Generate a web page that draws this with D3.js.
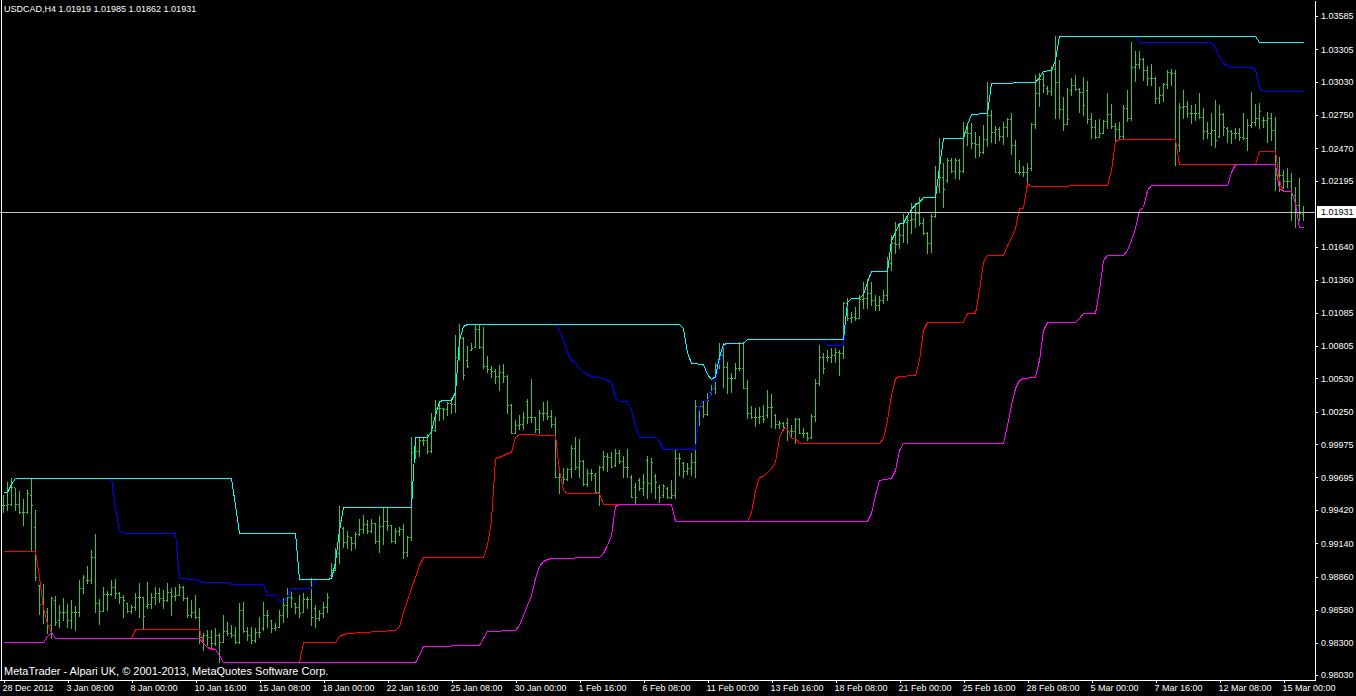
<!DOCTYPE html>
<html><head><meta charset="utf-8">
<script src="https://cdn.jsdelivr.net/npm/d3@7"></script>
<style>
html,body{margin:0;padding:0;background:#000;overflow:hidden}
svg{display:block}
text{font-family:"Liberation Sans",Arial,sans-serif;font-size:9px;fill:#fff}
</style></head><body>
<svg id="c" width="1356" height="696"></svg>
<script>
const titleText = "USDCAD,H4  1.01919 1.01985 1.01862 1.01931";
const copyrightText = "MetaTrader - Alpari UK, \u00A9 2001-2013, MetaQuotes Software Corp.";
const currentPrice = 1.01931;

const timeTickBars = [0,16,32,48,64,80,96,112,128,144,160,176,192,208,224,240,256,272,288,304,320];
const timeLabels = ["28 Dec 2012","3 Jan 08:00","8 Jan 00:00","10 Jan 16:00","15 Jan 08:00","18 Jan 00:00","22 Jan 16:00","25 Jan 08:00","30 Jan 00:00","1 Feb 16:00","6 Feb 08:00","11 Feb 00:00","13 Feb 16:00","18 Feb 08:00","21 Feb 00:00","25 Feb 16:00","28 Feb 08:00","5 Mar 00:00","7 Mar 16:00","12 Mar 08:00","15 Mar 00:00"];
const priceTicks = [1.03585,1.03305,1.03030,1.02750,1.02470,1.02195,1.01640,1.01360,1.01085,1.00805,1.00530,1.00250,0.99975,0.99695,0.99420,0.99140,0.98860,0.98580,0.98300,0.98030];

const high = [0.99547,0.99657,0.99690,0.99606,0.99581,0.99513,0.99589,0.99690,0.99421,0.98788,0.98797,0.98595,0.98687,0.98696,0.98620,0.98679,0.98628,0.98662,0.98611,0.98831,
0.98873,0.98949,0.99084,0.99218,0.98670,0.98772,0.98738,0.98831,0.98839,0.98729,0.98704,0.98637,0.98620,0.98721,0.98805,0.98687,0.98814,0.98721,0.98772,0.98763,
0.98746,0.98805,0.98763,0.98772,0.98797,0.98780,0.98687,0.98662,0.98704,0.98595,0.98384,0.98409,0.98409,0.98426,0.98384,0.98536,0.98477,0.98451,0.98434,0.98637,
0.98645,0.98434,0.98434,0.98426,0.98519,0.98645,0.98578,0.98493,0.98468,0.98578,0.98679,0.98763,0.98729,0.98637,0.98704,0.98721,0.98687,0.98848,0.98620,0.98578,
0.98645,0.98721,0.98974,0.99100,0.99454,0.99277,0.99244,0.99193,0.99235,0.99345,0.99379,0.99336,0.99345,0.99311,0.99370,0.99446,0.99446,0.99294,0.99269,0.99277,
0.99303,0.99202,1.00036,0.99960,1.00036,1.00036,1.00061,1.00238,1.00348,1.00331,1.00281,1.00331,1.00365,1.00896,1.00989,1.00879,1.00803,1.00829,1.00980,1.00980,
1.00963,1.00719,1.00635,1.00609,1.00643,1.00652,1.00559,1.00314,1.00179,1.00222,1.00247,1.00356,1.00525,1.00205,1.00264,1.00331,1.00340,1.00264,1.00205,0.99783,
0.99775,0.99775,0.99969,1.00036,1.00019,0.99842,0.99766,0.99766,0.99733,0.99792,0.99918,0.99901,0.99910,0.99935,0.99927,0.99876,0.99935,0.99716,0.99648,0.99690,
0.99724,0.99876,0.99859,0.99724,0.99631,0.99640,0.99615,0.99674,0.99927,0.99901,0.99825,0.99817,0.99901,1.00348,1.00306,1.00348,1.00407,1.00474,1.00660,1.00829,
1.00829,1.00668,1.00576,1.00660,1.00837,1.00837,1.00517,1.00297,1.00281,1.00289,1.00306,1.00432,1.00399,1.00230,1.00171,1.00163,1.00196,1.00137,1.00196,1.00196,
1.00112,1.00078,1.00230,1.00525,1.00812,1.00744,1.00770,1.00786,1.00786,1.00770,1.01174,1.01208,1.01090,1.01132,1.01233,1.01343,1.01368,1.01343,1.01233,1.01225,
1.01275,1.01554,1.01739,1.01849,1.01840,1.01916,1.01908,1.02009,1.02009,1.02059,1.01882,1.01764,1.01916,1.02321,1.02557,1.02346,1.02388,1.02388,1.02388,1.02380,
1.02692,1.02683,1.02683,1.02607,1.02574,1.02666,1.03029,1.02793,1.02658,1.02649,1.02692,1.02725,1.02767,1.02540,1.02371,1.02321,1.02346,1.02683,1.03088,1.03105,
1.03105,1.02995,1.03164,1.03417,1.03214,1.02902,1.02978,1.03063,1.03088,1.02978,1.03071,1.03037,1.02767,1.02708,1.02717,1.02708,1.02936,1.02843,1.02683,1.02692,
1.02835,1.02961,1.03366,1.03290,1.03290,1.03231,1.03164,1.03181,1.03071,1.02987,1.03020,1.03130,1.03138,1.03130,1.02852,1.02961,1.02869,1.02835,1.02843,1.02936,
1.02810,1.02692,1.02767,1.02877,1.02835,1.02767,1.02649,1.02624,1.02641,1.02641,1.02767,1.02717,1.02944,1.02843,1.02852,1.02734,1.02776,1.02767,1.02734,1.02397,
1.02287,1.02304,1.02262,1.02144,1.02220,1.01985];

const low = [0.99404,0.99421,0.99463,0.99421,0.99395,0.99294,0.99395,0.99075,0.98831,0.98544,0.98468,0.98384,0.98342,0.98451,0.98434,0.98493,0.98434,0.98426,0.98409,0.98527,
0.98721,0.98805,0.98805,0.98561,0.98460,0.98569,0.98578,0.98704,0.98679,0.98637,0.98519,0.98561,0.98552,0.98578,0.98519,0.98426,0.98595,0.98595,0.98628,0.98645,
0.98595,0.98654,0.98536,0.98662,0.98704,0.98662,0.98519,0.98519,0.98510,0.98300,0.98241,0.98283,0.98266,0.98283,0.98139,0.98308,0.98367,0.98350,0.98300,0.98300,
0.98392,0.98325,0.98300,0.98308,0.98350,0.98409,0.98434,0.98392,0.98409,0.98434,0.98477,0.98519,0.98603,0.98552,0.98519,0.98561,0.98595,0.98451,0.98434,0.98493,
0.98519,0.98561,0.98856,0.98915,0.98974,0.99109,0.99100,0.99084,0.99100,0.99210,0.99227,0.99227,0.99235,0.99143,0.99067,0.99134,0.99252,0.99151,0.99143,0.99210,
0.99016,0.99033,0.99168,0.99859,0.99876,0.99969,0.99901,0.99910,1.00087,1.00179,1.00188,1.00222,1.00238,1.00247,1.00685,1.00525,1.00626,1.00770,1.00795,1.00786,
1.00618,1.00584,1.00542,1.00491,1.00432,1.00500,1.00238,1.00070,1.00070,1.00104,1.00104,1.00154,1.00163,1.00078,1.00070,1.00179,1.00188,1.00120,0.99699,0.99564,
0.99648,0.99674,0.99699,0.99766,0.99699,0.99631,0.99623,0.99674,0.99564,0.99463,0.99758,0.99750,0.99783,0.99792,0.99817,0.99699,0.99699,0.99530,0.99471,0.99589,
0.99547,0.99522,0.99572,0.99522,0.99488,0.99530,0.99522,0.99522,0.99522,0.99716,0.99699,0.99724,0.99716,0.99699,1.00137,1.00205,1.00222,1.00399,1.00407,1.00618,
1.00458,1.00407,1.00415,1.00534,1.00601,1.00449,1.00196,1.00196,1.00129,1.00154,1.00163,1.00205,1.00120,1.00112,1.00112,1.00095,1.00011,1.00036,0.99986,1.00070,
1.00036,1.00011,1.00028,1.00171,1.00474,1.00576,1.00677,1.00668,1.00668,1.00559,1.00702,1.01022,1.01006,1.01022,1.01039,1.01124,1.01124,1.01149,1.01107,1.01107,
1.01166,1.01191,1.01444,1.01587,1.01629,1.01680,1.01672,1.01756,1.01806,1.01823,1.01747,1.01587,1.01596,1.01891,1.02101,1.01975,1.02186,1.02270,1.02220,1.02211,
1.02270,1.02498,1.02472,1.02397,1.02405,1.02430,1.02489,1.02523,1.02515,1.02540,1.02506,1.02574,1.02422,1.02270,1.02253,1.02236,1.02177,1.02287,1.02641,1.02826,
1.02944,1.02928,1.02919,1.02725,1.02725,1.02624,1.02675,1.02919,1.02961,1.02776,1.02751,1.02683,1.02557,1.02557,1.02565,1.02599,1.02641,1.02641,1.02540,1.02557,
1.02557,1.02700,1.02708,1.03037,1.03147,1.03046,1.03003,1.03003,1.02852,1.02852,1.02869,1.02978,1.03003,1.02329,1.02447,1.02725,1.02734,1.02683,1.02708,1.02725,
1.02548,1.02557,1.02498,1.02481,1.02565,1.02582,1.02523,1.02515,1.02557,1.02540,1.02548,1.02456,1.02649,1.02666,1.02641,1.02649,1.02523,1.02540,1.02118,1.02110,
1.02135,1.02144,1.01865,1.01806,1.01865,1.01862];

const open = [0.99463,0.99463,0.99471,0.99615,0.99471,0.99404,0.99404,0.99547,0.99277,0.98788,0.98628,0.98561,0.98451,0.98662,0.98493,0.98561,0.98561,0.98493,0.98561,0.98561,
0.98763,0.98831,0.98831,0.99025,0.98637,0.98569,0.98713,0.98713,0.98772,0.98721,0.98687,0.98637,0.98569,0.98603,0.98687,0.98687,0.98611,0.98628,0.98687,0.98721,
0.98679,0.98662,0.98729,0.98696,0.98704,0.98772,0.98679,0.98536,0.98561,0.98519,0.98350,0.98367,0.98350,0.98300,0.98367,0.98308,0.98401,0.98384,0.98367,0.98308,
0.98578,0.98401,0.98367,0.98325,0.98392,0.98426,0.98536,0.98493,0.98426,0.98434,0.98536,0.98620,0.98687,0.98637,0.98603,0.98561,0.98670,0.98670,0.98595,0.98510,
0.98552,0.98603,0.98873,0.98915,0.99058,0.99269,0.99151,0.99193,0.99143,0.99218,0.99261,0.99303,0.99244,0.99311,0.99159,0.99286,0.99328,0.99294,0.99159,0.99244,
0.99261,0.99067,0.99193,0.99910,0.99918,1.00011,1.00011,0.99918,1.00095,1.00281,1.00281,1.00272,1.00323,1.00314,1.00711,1.00871,1.00685,1.00770,1.00795,1.00947,
1.00795,1.00635,1.00609,1.00593,1.00550,1.00584,1.00550,1.00306,1.00070,1.00137,1.00146,1.00340,1.00205,1.00205,1.00104,1.00238,1.00238,1.00213,1.00146,0.99699,
0.99699,0.99682,0.99766,0.99943,0.99783,0.99834,0.99640,0.99733,0.99716,0.99572,0.99783,0.99876,0.99868,0.99800,0.99901,0.99834,0.99783,0.99699,0.99615,0.99674,
0.99606,0.99842,0.99648,0.99707,0.99615,0.99547,0.99606,0.99530,0.99547,0.99859,0.99817,0.99750,0.99775,0.99825,1.00179,1.00297,1.00230,1.00415,1.00449,1.00643,
1.00727,1.00626,1.00534,1.00534,1.00618,1.00618,1.00449,1.00238,1.00205,1.00205,1.00213,1.00222,1.00289,1.00222,1.00146,1.00154,1.00154,1.00087,1.00087,1.00188,
1.00070,1.00070,1.00036,1.00213,1.00491,1.00711,1.00711,1.00711,1.00727,1.00753,1.00744,1.01166,1.01039,1.01048,1.01039,1.01199,1.01208,1.01250,1.01191,1.01149,
1.01191,1.01233,1.01503,1.01672,1.01663,1.01739,1.01849,1.01865,1.01874,1.01924,1.01840,1.01756,1.01672,1.01899,1.02152,1.02228,1.02203,1.02371,1.02279,1.02371,
1.02279,1.02607,1.02599,1.02515,1.02506,1.02439,1.02548,1.02751,1.02607,1.02633,1.02574,1.02649,1.02717,1.02498,1.02270,1.02270,1.02270,1.02304,1.02675,1.02936,
1.03054,1.02978,1.02953,1.03138,1.03029,1.02801,1.02675,1.02961,1.03003,1.02970,1.02944,1.02961,1.02717,1.02649,1.02565,1.02599,1.02700,1.02759,1.02658,1.02633,
1.02574,1.02810,1.02725,1.03155,1.03181,1.03223,1.03130,1.03063,1.03063,1.02894,1.02919,1.03012,1.03113,1.03105,1.02498,1.02818,1.02826,1.02767,1.02767,1.02767,
1.02734,1.02616,1.02599,1.02624,1.02574,1.02759,1.02641,1.02616,1.02599,1.02599,1.02565,1.02557,1.02666,1.02692,1.02725,1.02708,1.02708,1.02725,1.02624,1.02245,
1.02245,1.02194,1.02194,1.02076,1.01992,1.01919];

const close = [0.99463,0.99471,0.99615,0.99471,0.99404,0.99404,0.99564,0.99463,0.98856,0.98628,0.98561,0.98451,0.98679,0.98477,0.98561,0.98561,0.98493,0.98561,0.98561,0.98763,
0.98856,0.98831,0.99025,0.98637,0.98569,0.98713,0.98713,0.98772,0.98721,0.98687,0.98662,0.98569,0.98603,0.98687,0.98687,0.98527,0.98628,0.98687,0.98721,0.98679,
0.98662,0.98729,0.98696,0.98704,0.98772,0.98679,0.98536,0.98561,0.98519,0.98350,0.98367,0.98350,0.98300,0.98367,0.98308,0.98401,0.98384,0.98367,0.98308,0.98578,
0.98401,0.98367,0.98325,0.98392,0.98392,0.98536,0.98536,0.98426,0.98434,0.98536,0.98620,0.98687,0.98679,0.98603,0.98552,0.98670,0.98670,0.98519,0.98510,0.98552,
0.98603,0.98687,0.98915,0.99058,0.99336,0.99151,0.99202,0.99143,0.99218,0.99261,0.99303,0.99244,0.99311,0.99159,0.99286,0.99328,0.99294,0.99159,0.99244,0.99261,
0.99067,0.99193,0.99910,0.99918,1.00011,1.00011,0.99918,1.00095,1.00281,1.00281,1.00272,1.00323,1.00314,1.00711,1.00871,1.00559,1.00635,1.00786,1.00947,1.00795,
1.00635,1.00609,1.00593,1.00550,1.00584,1.00550,1.00306,1.00070,1.00137,1.00146,1.00205,1.00205,1.00205,1.00104,1.00238,1.00238,1.00213,1.00146,0.99699,0.99699,
0.99682,0.99766,0.99943,0.99783,0.99834,0.99640,0.99733,0.99733,0.99572,0.99783,0.99876,0.99868,0.99783,0.99901,0.99834,0.99783,0.99783,0.99530,0.99530,0.99606,
0.99657,0.99648,0.99825,0.99657,0.99530,0.99623,0.99530,0.99547,0.99859,0.99859,0.99750,0.99775,0.99825,1.00297,1.00297,1.00230,1.00348,1.00449,1.00643,1.00727,
1.00626,1.00534,1.00534,1.00618,1.00618,1.00449,1.00238,1.00205,1.00205,1.00213,1.00188,1.00289,1.00289,1.00146,1.00154,1.00120,1.00087,1.00087,1.00188,1.00070,
1.00070,1.00028,1.00213,1.00491,1.00711,1.00618,1.00711,1.00727,1.00753,1.00744,1.01166,1.01039,1.01048,1.01039,1.01199,1.01208,1.01250,1.01191,1.01149,1.01191,
1.01233,1.01503,1.01672,1.01663,1.01739,1.01849,1.01865,1.01874,1.01924,1.01840,1.01756,1.01672,1.01899,1.02152,1.02228,1.02127,1.02371,1.02279,1.02371,1.02279,
1.02607,1.02599,1.02515,1.02506,1.02439,1.02548,1.02751,1.02607,1.02633,1.02574,1.02649,1.02717,1.02498,1.02270,1.02270,1.02270,1.02304,1.02675,1.02936,1.03054,
1.03003,1.02953,1.03138,1.03029,1.02801,1.02675,1.02717,1.03003,1.02970,1.02944,1.02835,1.02717,1.02649,1.02565,1.02599,1.02700,1.02759,1.02658,1.02633,1.02574,
1.02810,1.02725,1.03155,1.03181,1.03223,1.03130,1.03063,1.03063,1.02894,1.02919,1.03012,1.03113,1.03105,1.02498,1.02818,1.02826,1.02767,1.02767,1.02767,1.02734,
1.02616,1.02599,1.02624,1.02540,1.02759,1.02649,1.02616,1.02599,1.02599,1.02565,1.02557,1.02666,1.02692,1.02725,1.02784,1.02708,1.02725,1.02624,1.02245,1.02245,
1.02194,1.02194,1.02076,1.01992,1.01924,1.01931];

// indicator lines: [bar index, price] vertices
const cyanLine = [[0,0.99572],[1,0.99572],[2,0.99640],[3,0.99690],[57,0.99690],[58,0.99463],[59,0.99227],[73,0.99227],[74,0.98839],[81,0.98839],[82,0.98848],[83,0.98982],[84,0.99252],[85,0.99446],[102,0.99446],[103,1.00036],[106,1.00036],[107,1.00087],[108,1.00222],[109,1.00340],[110,1.00348],[112,1.00348],[113,1.00415],[114,1.00854],[115,1.00972],[116,1.00989],[169,1.00989],[170,1.00955],[171,1.00753],[172,1.00660],[175,1.00652],[176,1.00567],[177,1.00525],[178,1.00550],[179,1.00719],[180,1.00820],[181,1.00829],[185,1.00829],[186,1.00862],[210,1.00862],[211,1.01174],[212,1.01208],[214,1.01208],[215,1.01242],[216,1.01343],[217,1.01436],[221,1.01436],[222,1.01697],[223,1.01764],[224,1.01840],[225,1.01840],[226,1.01908],[227,1.01958],[228,1.02000],[229,1.02017],[230,1.02059],[233,1.02059],[234,1.02312],[235,1.02557],[240,1.02557],[241,1.02675],[242,1.02759],[246,1.02767],[247,1.03020],[258,1.03029],[259,1.03071],[260,1.03122],[262,1.03130],[263,1.03214],[264,1.03417],[313,1.03417],[314,1.03366],[325,1.03366]];

const blueLine = [[0,0.99572],[1,0.99572],[2,0.99640],[3,0.99690],[27,0.99690],[28,0.99438],[29,0.99252],[30,0.99227],[43,0.99227],[44,0.98848],[48,0.98839],[49,0.98822],[50,0.98814],[56,0.98814],[57,0.98797],[65,0.98797],[66,0.98704],[68,0.98704],[69,0.98654],[70,0.98654],[71,0.98696],[72,0.98763],[77,0.98763],[78,0.98839],[81,0.98839],[82,0.98848],[83,0.98982],[84,0.99252],[85,0.99446],[102,0.99446],[103,1.00036],[106,1.00036],[107,1.00087],[108,1.00222],[109,1.00340],[110,1.00348],[112,1.00348],[113,1.00415],[114,1.00854],[115,1.00972],[116,1.00989],[138,1.00989],[139,1.00938],[140,1.00854],[141,1.00753],[142,1.00685],[143,1.00668],[144,1.00618],[145,1.00584],[146,1.00567],[147,1.00550],[148,1.00542],[150,1.00534],[151,1.00517],[152,1.00500],[153,1.00365],[154,1.00340],[156,1.00340],[157,1.00264],[158,1.00137],[159,1.00036],[163,1.00036],[164,1.00002],[165,0.99935],[173,0.99935],[174,1.00306],[175,1.00348],[176,1.00348],[177,1.00415],[178,1.00517],[179,1.00668],[180,1.00812],[181,1.00829],[185,1.00829],[186,1.00862],[205,1.00862],[206,1.00812],[210,1.00812],[211,1.01174],[212,1.01208],[214,1.01208],[215,1.01242],[216,1.01343],[217,1.01436],[221,1.01436],[222,1.01697],[223,1.01764],[224,1.01840],[225,1.01840],[226,1.01908],[227,1.01958],[228,1.02000],[229,1.02017],[230,1.02059],[233,1.02059],[234,1.02312],[235,1.02557],[240,1.02557],[241,1.02675],[242,1.02759],[246,1.02767],[247,1.03020],[258,1.03029],[259,1.03071],[260,1.03122],[262,1.03130],[263,1.03214],[264,1.03417],[283,1.03417],[284,1.03366],[302,1.03366],[303,1.03324],[304,1.03240],[305,1.03189],[306,1.03172],[307,1.03155],[312,1.03155],[313,1.03138],[314,1.02978],[315,1.02953],[325,1.02953]];

const redLine = [[0,0.99075],[8,0.99075],[9,0.98856],[10,0.98595],[11,0.98468],[12,0.98392],[13,0.98342],[32,0.98342],[33,0.98417],[49,0.98417],[50,0.98300],[51,0.98266],[52,0.98249],[53,0.98249],[54,0.98198],[55,0.98139],[74,0.98139],[75,0.98308],[83,0.98308],[84,0.98359],[85,0.98376],[86,0.98384],[98,0.98409],[99,0.98443],[100,0.98561],[101,0.98662],[102,0.98763],[103,0.98856],[104,0.98957],[105,0.99025],[120,0.99025],[121,0.99126],[122,0.99336],[123,0.99859],[124,0.99868],[125,0.99884],[126,0.99901],[127,0.99910],[128,1.00036],[129,1.00061],[138,1.00053],[139,0.99758],[140,0.99589],[141,0.99564],[149,0.99564],[150,0.99471],[167,0.99471],[168,0.99328],[186,0.99328],[187,0.99404],[188,0.99589],[189,0.99699],[190,0.99707],[191,0.99741],[192,0.99775],[193,0.99825],[194,1.00036],[195,1.00112],[196,1.00112],[197,1.00028],[198,1.00028],[199,0.99986],[219,0.99986],[220,1.00028],[221,1.00179],[222,1.00390],[223,1.00534],[224,1.00550],[228,1.00559],[229,1.00685],[230,1.00938],[231,1.01006],[240,1.01006],[241,1.01081],[243,1.01081],[244,1.01275],[245,1.01511],[246,1.01570],[250,1.01570],[251,1.01655],[252,1.01714],[253,1.01798],[254,1.01967],[255,1.01967],[256,1.02177],[257,1.02152],[276,1.02160],[277,1.02287],[278,1.02531],[279,1.02548],[293,1.02548],[294,1.02337],[313,1.02337],[314,1.02446],[318,1.02446],[319,1.02203],[320,1.02110],[322,1.02110],[323,1.02009],[324,1.01806],[325,1.01806]];

const magentaLine = [[0,0.98308],[10,0.98308],[11,0.98359],[12,0.98392],[13,0.98342],[49,0.98342],[50,0.98300],[51,0.98266],[52,0.98257],[53,0.98249],[54,0.98198],[55,0.98139],[103,0.98139],[104,0.98198],[105,0.98274],[119,0.98283],[120,0.98342],[121,0.98401],[128,0.98409],[129,0.98451],[130,0.98536],[131,0.98620],[132,0.98704],[133,0.98848],[134,0.98949],[135,0.98991],[136,0.99008],[137,0.99016],[149,0.99025],[150,0.99058],[151,0.99126],[152,0.99210],[153,0.99454],[154,0.99471],[167,0.99471],[168,0.99328],[216,0.99328],[217,0.99395],[218,0.99547],[219,0.99674],[222,0.99690],[223,0.99758],[224,0.99927],[225,0.99986],[250,0.99986],[251,1.00137],[252,1.00306],[253,1.00449],[254,1.00517],[255,1.00534],[258,1.00542],[259,1.00685],[260,1.00938],[261,1.01006],[268,1.01006],[269,1.01039],[270,1.01081],[273,1.01081],[274,1.01275],[275,1.01528],[276,1.01570],[280,1.01570],[281,1.01613],[282,1.01697],[283,1.01798],[284,1.01950],[285,1.01975],[286,1.02118],[287,1.02160],[306,1.02160],[307,1.02270],[308,1.02337],[318,1.02337],[319,1.02135],[320,1.02110],[322,1.02110],[323,1.02009],[324,1.01806],[325,1.01806]];

const W = 1356, H = 696;
const plotRight = 1315, plotBottom = 680;
const svg = d3.select("#c");
svg.append("rect").attr("width", W).attr("height", H).attr("fill", "#000");

const n = high.length;
const x = d3.scaleLinear().domain([0, n - 1]).range([3.5, 3.5 + 4 * (n - 1)]);
const y = d3.scaleLinear().domain([0.979876, 1.0372]).range([plotBottom, 0]);
const py = v => Math.round(y(v));

// bars
const bars = d3.range(n).map(i => ({i, o: open[i], h: high[i], l: low[i], c: close[i]}));
const gb = svg.append("g").attr("shape-rendering", "crispEdges");
gb.selectAll("rect.v").data(bars).join("rect").attr("class", "v").attr("fill", "#32cd32")
  .attr("x", d => Math.floor(x(d.i))).attr("y", d => py(d.h))
  .attr("width", 1).attr("height", d => Math.max(1, py(d.l) - py(d.h) + 1));
gb.selectAll("rect.o").data(bars).join("rect").attr("class", "o").attr("fill", "#32cd32")
  .attr("x", d => Math.floor(x(d.i)) - 1).attr("y", d => py(d.o)).attr("width", 1).attr("height", 1);
gb.selectAll("rect.c").data(bars).join("rect").attr("class", "c").attr("fill", "#32cd32")
  .attr("x", d => Math.floor(x(d.i)) + 1).attr("y", d => py(d.c)).attr("width", 1).attr("height", 1);

// indicator lines
const line = d3.line().x(d => x(d[0])).y(d => Math.round(y(d[1])) + 0.5);
const series = [[blueLine, "#0000ff"], [cyanLine, "#00ffff"], [redLine, "#ff0000"], [magentaLine, "#ff00ff"]];
svg.append("g").selectAll("path").data(series).join("path")
  .attr("d", d => line(d[0])).attr("fill", "none").attr("stroke", d => d[1])
  .attr("stroke-width", 1).attr("shape-rendering", "crispEdges");

// current price line
const cy = Math.round(y(currentPrice)) + 0.5;
svg.append("line").attr("x1", 0).attr("x2", plotRight).attr("y1", cy).attr("y2", cy)
  .attr("stroke", "#c0c0c0").attr("shape-rendering", "crispEdges");

// frame
svg.append("line").attr("x1", 1.5).attr("x2", 1.5).attr("y1", 0).attr("y2", plotBottom)
  .attr("stroke", "#fff").attr("shape-rendering", "crispEdges");

// price axis
const ay = svg.append("g").attr("transform", `translate(${plotRight},0)`)
  .call(d3.axisRight(y).tickValues(priceTicks).tickFormat(d3.format(".5f")).tickSize(3).tickSizeOuter(0).tickPadding(3));
ay.select(".domain").attr("stroke", "#fff").attr("shape-rendering", "crispEdges");
ay.selectAll(".tick line").attr("stroke", "#fff").attr("shape-rendering", "crispEdges");
ay.selectAll(".tick text").attr("fill", "#fff").attr("font-family", "Liberation Sans, Arial, sans-serif").attr("font-size", 9);

// current price label
const lbl = svg.append("g").attr("transform", `translate(${plotRight + 2},${Math.round(y(currentPrice))})`);
lbl.append("rect").attr("x", 0).attr("y", -6).attr("width", W - plotRight - 2).attr("height", 12).attr("fill", "#fff");
lbl.append("text").attr("x", 4).attr("y", 0).attr("dy", "0.34em").style("fill", "#000").text(d3.format(".5f")(currentPrice));

// time axis
const ax = svg.append("g").attr("transform", `translate(0,${plotBottom})`)
  .call(d3.axisBottom(x).tickValues(timeTickBars).tickFormat((d, i) => timeLabels[i]).tickSize(3).tickSizeOuter(0).tickPadding(2));
ax.select(".domain").attr("stroke", "#fff").attr("d", `M0,0.5H${plotRight}`).attr("shape-rendering", "crispEdges");
ax.selectAll(".tick line").attr("stroke", "#fff").attr("shape-rendering", "crispEdges");
ax.selectAll(".tick text").attr("fill", "#fff").attr("text-anchor", "start").attr("dx", -1.5)
  .attr("font-family", "Liberation Sans, Arial, sans-serif").attr("font-size", 9);

// texts
svg.append("text").attr("x", 4).attr("y", 12).text(titleText);
svg.append("text").attr("x", 4).attr("y", 675).style("font-size", "11px").text(copyrightText);
</script>
</body></html>
